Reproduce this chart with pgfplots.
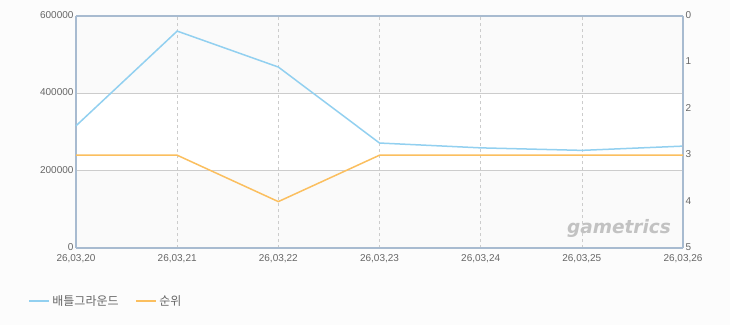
\documentclass[border=0pt]{standalone}
\usepackage{pgfplots}
\pgfplotsset{compat=1.18}
\usepackage{fontspec}
\setmainfont{Liberation Sans}
\newfontfamily\kr{Noto Sans CJK KR}
\newfontfamily\wm{DejaVu Sans}
\definecolor{bg}{HTML}{FCFCFC}
\definecolor{plotbg}{HTML}{FAFAFA}
\definecolor{axcol}{HTML}{A8BBD0}
\definecolor{gridc}{HTML}{CCCCCC}
\definecolor{tickc}{HTML}{666666}
\definecolor{blu}{HTML}{92D0F0}
\definecolor{org}{HTML}{FBBF5F}
\begin{document}
\begin{tikzpicture}[x=1pt,y=1pt]
\fill[bg] (0,0) rectangle (730,325);
\fill[plotbg] (76,77) rectangle (683,309);
\fill[white] (76,154.33) rectangle (683,231.67);
\begin{axis}[
  at={(76pt,77pt)}, anchor=south west,
  width=607pt, height=232pt, scale only axis,
  xmin=0, xmax=6, ymin=0, ymax=600000,
  scaled y ticks=false,
  xtick={0,...,6},
  xticklabels={{26,03,20},{26,03,21},{26,03,22},{26,03,23},{26,03,24},{26,03,25},{26,03,26}},
  ytick={0,200000,400000,600000},
  yticklabels={0,200000,400000,600000},
  axis y line*=left, axis x line*=bottom,
  major tick length=0pt,
  axis line style={axcol, line width=1.4pt},
  xmajorgrids, ymajorgrids,
  x grid style={gridc, dashed, line width=0.6pt},
  y grid style={gridc, line width=0.7pt},
  ticklabel style={font=\fontsize{10}{11}\selectfont, text=tickc},
  xticklabel style={yshift=-3pt},
  yticklabel style={xshift=1pt, yshift=1pt},
  clip=false,
]
\addplot[blu, line width=1.5pt] coordinates {(0,316000) (1,561000) (2,468000) (3,271500) (4,259000) (5,252500) (6,263500)};
\end{axis}
\begin{axis}[
  at={(76pt,77pt)}, anchor=south west,
  width=607pt, height=232pt, scale only axis,
  xmin=0, xmax=6, ymin=0, ymax=5, y dir=reverse,
  axis y line*=right, axis x line*=top,
  xtick=\empty,
  ytick={0,...,5},
  yticklabels={0,1,2,3,4,5},
  major tick length=0pt,
  axis line style={axcol, line width=1.1pt},
  ticklabel style={font=\fontsize{10}{11}\selectfont, text=tickc},
  yticklabel style={xshift=-1pt, yshift=1pt},
  legend columns=2,
  legend style={draw=none, fill=none, at={(-0.085,-0.228)}, anchor=west,
    font=\kr\fontsize{12}{13}\selectfont, text=tickc,
    /tikz/every even column/.append style={column sep=14pt}},
  legend image code/.code={\draw[#1, line width=2.8pt] (0pt,0pt) -- (20pt,0pt);},
  clip=false,
]
\addlegendimage{blu}
\addlegendentry{배틀그라운드}
\addplot[org, line width=1.5pt] coordinates {(0,3) (1,3) (2,4) (3,3) (4,3) (5,3) (6,3)};
\addlegendentry{순위}
\end{axis}
\node[text=black!24, font=\wm\bfseries\itshape\fontsize{18.5}{18}\selectfont, anchor=center] at (619pt,97pt) {gametrics};
\end{tikzpicture}
\end{document}
